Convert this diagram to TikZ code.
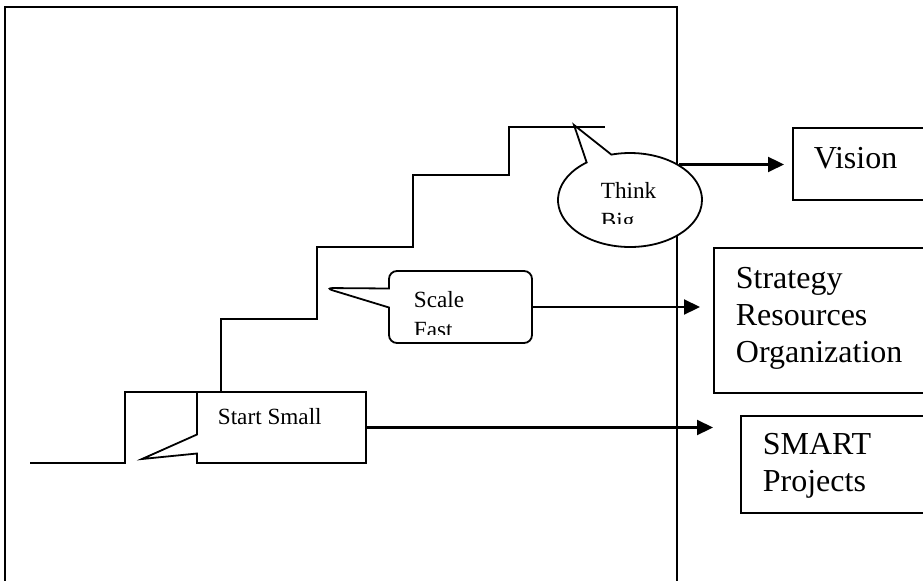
\documentclass[tikz,border=0pt]{standalone}
\usepackage{fontspec}
\setmainfont{Liberation Serif}
\usetikzlibrary{shapes.callouts, arrows.meta, positioning}

\begin{document}
\begin{tikzpicture}[x=0.5pt, y=-0.5pt, line width=0.9pt,
    bubble/.style={rectangle callout, draw, fill=white, inner sep=0pt, callout pointer width=9.5pt},
    cloud/.style={ellipse callout, draw, fill=white, inner sep=0pt, callout pointer arc=22},
    box/.style={rectangle, draw, fill=white, inner sep=0pt, anchor=north west},
    small/.style={font=\fontsize{11.6}{15}\selectfont, anchor=base west, inner sep=0pt, align=left},
    big/.style={font=\fontsize{16}{18.5}\selectfont, anchor=base west, inner sep=0pt, align=left},
    arr/.style={line width=1.1pt, -{Triangle[length=8pt, width=7.5pt]}}
]
\clip (0,0) rectangle (923,580);

% frame and stairs
\draw (5,7) rectangle (677,600);
\draw (30,463) -| (125,392) -| (221,319) -| (317,247) -| (413,175) -| (509,127) -- (605,127);

% right hand boxes
\node[box, minimum width=75pt, minimum height=36pt] (vision) at (792,127) {};
\node[box, minimum width=113.5pt, minimum height=72.5pt] (strategy) at (713,247) {};
\node[box, minimum width=100pt, minimum height=48.5pt] (smart) at (740,415) {};

% callouts
\node[bubble, minimum width=84.5pt, minimum height=35.5pt, callout absolute pointer={(142,459)}] (start) at (281.5,427.5) {};
\node[bubble, rounded corners=4pt, minimum width=71.5pt, minimum height=36pt, callout absolute pointer={(325,288)}] (scale) at (460.5,307) {};
\node[cloud, minimum width=72pt, minimum height=47pt, callout absolute pointer={(574,125)}] (think) at (630,200) {};

% connectors
\draw[arr, shorten >=4pt] (think.36) -- (think.36 -| vision.west);
\draw[arr, shorten >=6.5pt] (scale.east) -- (scale.east -| strategy.west);
\draw[arr, shorten >=13.5pt] (start.east) -- (start.east -| smart.west);

% texts (base = last line)
\node[small] (starttext) at (217,424) {Start Small};
\begin{scope}
  \clip (389,271) rectangle (532,334);
  \node[small] (scaletext) at (413,337) {Scale\\Fast};
\end{scope}
\begin{scope}
  \clip (560,150) rectangle (700,223);
  \node[small] (thinktext) at (600,228) {Think\\Big};
\end{scope}
\node[big] (visiontext) at (813,168) {Vision};
\node[big] (strategytext) at (735,362) {Strategy\\Resources\\Organization};
\node[big] (smarttext) at (762,491) {SMART\\Projects};
\end{tikzpicture}
\end{document}
